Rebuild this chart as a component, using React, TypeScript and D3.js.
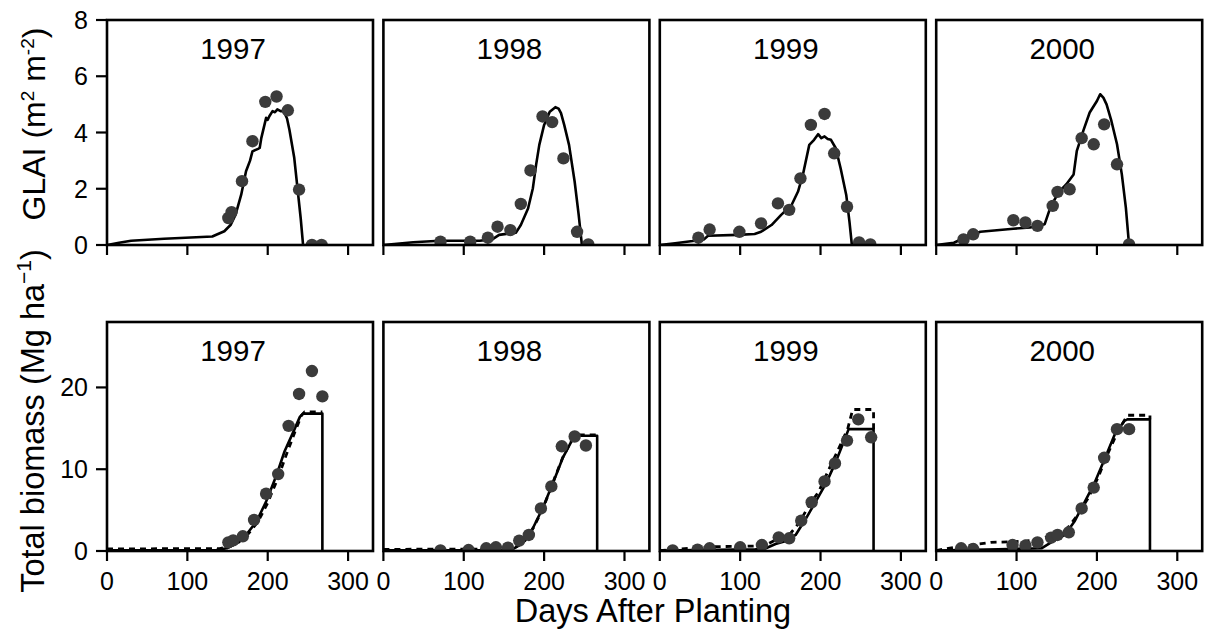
import React from 'react';
import * as d3 from 'd3';

type P = [number, number];

const years = ['1997', '1998', '1999', '2000'];
const xTicks = [0, 100, 200, 300];
const glaiTicks = [0, 2, 4, 6, 8];
const biomassTicks = [0, 10, 20];

// ---- GLAI observed ----
const glaiObs1997: P[] = [[151, 0.96], [155, 1.17], [168, 2.27], [181, 3.69], [197, 5.09], [211, 5.28], [225, 4.79], [239, 1.97], [255, 0], [267, 0]];
const glaiObs1998: P[] = [[71, 0.12], [108, 0.12], [130, 0.26], [142, 0.65], [158, 0.53], [171, 1.46], [183, 2.65], [198, 4.57], [210, 4.37], [224, 3.08], [241, 0.47], [255, 0.02]];
const glaiObs1999: P[] = [[48, 0.26], [62, 0.55], [99, 0.47], [126, 0.77], [147, 1.48], [161, 1.25], [175, 2.37], [188, 4.27], [205, 4.66], [217, 3.26], [233, 1.36], [248, 0.09], [262, 0.02]];
const glaiObs2000: P[] = [[34, 0.2], [46, 0.38], [96, 0.88], [111, 0.8], [126, 0.68], [145, 1.39], [151, 1.89], [166, 1.98], [181, 3.8], [196, 3.58], [209, 4.29], [225, 2.87], [240, 0.02]];

// ---- GLAI simulated ----
const glaiSim1997: P[] = [[0, 0], [15, 0.08], [30, 0.15], [71, 0.22], [131, 0.3], [146, 0.49], [154, 0.72], [160, 1.08], [167, 1.79], [173, 2.62], [178, 3.0], [181, 3.33], [188, 3.42], [190, 3.45], [192, 3.8], [198, 4.52], [200, 4.45], [202, 4.58], [206, 4.76], [209, 4.72], [212, 4.82], [216, 4.76], [220, 4.76], [224, 4.5], [227, 4.1], [233, 3.1], [237, 2.03], [241, 0.96], [244, 0]];
const glaiSim1998: P[] = [[0, 0], [37, 0.1], [70, 0.15], [120, 0.15], [136, 0.21], [144, 0.36], [165, 0.44], [171, 0.71], [180, 1.3], [186, 2.02], [190, 2.85], [194, 3.56], [200, 4.27], [207, 4.74], [214, 4.9], [218, 4.85], [221, 4.69], [225, 4.27], [231, 3.56], [238, 2.25], [243, 1.07], [247, 0]];
const glaiSim1999: P[] = [[0, 0], [19, 0.06], [41, 0.14], [55, 0.2], [60, 0.33], [97, 0.36], [118, 0.39], [126, 0.47], [139, 0.71], [151, 1.07], [164, 1.42], [172, 1.9], [178, 2.49], [186, 3.56], [192, 3.74], [197, 3.94], [201, 3.8], [205, 3.86], [209, 3.77], [213, 3.74], [219, 3.44], [225, 2.73], [232, 1.78], [236, 0.83], [239, 0]];
const glaiSim2000: P[] = [[0, 0], [22, 0.08], [34, 0.24], [55, 0.47], [96, 0.58], [117, 0.62], [135, 0.74], [142, 1.33], [152, 1.86], [162, 2.16], [171, 2.51], [175, 3.35], [183, 4.06], [191, 4.71], [200, 5.12], [204, 5.36], [208, 5.24], [212, 5.0], [218, 4.41], [225, 3.58], [231, 2.51], [236, 1.33], [240, 0]];

// ---- Biomass observed ----
const bioObs1997: P[] = [[151, 1.06], [157, 1.3], [169, 1.8], [183, 3.8], [198, 7.0], [213, 9.4], [226, 15.3], [239, 19.2], [255, 22.0], [268, 18.9]];
const bioObs1998: P[] = [[71, 0.08], [106, 0.12], [128, 0.33], [140, 0.45], [155, 0.4], [169, 1.27], [181, 1.96], [196, 5.2], [209, 7.9], [222, 12.8], [238, 14.0], [252, 12.9]];
const bioObs1999: P[] = [[16, 0.08], [47, 0.16], [62, 0.33], [100, 0.45], [127, 0.73], [148, 1.67], [161, 1.55], [176, 3.7], [189, 5.96], [205, 8.5], [218, 10.7], [233, 13.5], [247, 16.1], [263, 13.9]];
const bioObs2000: P[] = [[31, 0.33], [46, 0.24], [95, 0.73], [111, 0.65], [126, 1.06], [143, 1.63], [151, 1.96], [165, 2.29], [181, 5.2], [196, 7.75], [209, 11.4], [225, 14.9], [240, 14.9]];

// ---- Biomass simulated (solid) ----
const bioSimA1997: P[] = [[0, 0.1], [136, 0.12], [149, 0.33], [161, 0.94], [173, 1.96], [186, 3.6], [198, 6.04], [211, 9.3], [221, 12.2], [232, 14.6], [240, 16.4], [244, 16.8], [268, 16.8], [268, 0]];
const bioSimA1998: P[] = [[0, 0.1], [150, 0.12], [161, 0.24], [173, 0.94], [186, 2.78], [198, 5.2], [211, 8.3], [223, 11.35], [234, 13.4], [242, 14.1], [266, 14.1], [266, 0]];
const bioSimA1999: P[] = [[0, 0.05], [45, 0.12], [119, 0.2], [132, 0.33], [144, 0.86], [157, 1.22], [169, 1.96], [182, 4.0], [194, 6.04], [207, 8.3], [219, 10.9], [229, 13.4], [235, 14.9], [266, 14.9], [266, 0]];
const bioSimA2000: P[] = [[0, 0.05], [77, 0.2], [131, 0.33], [143, 1.06], [160, 1.96], [172, 3.6], [185, 6.04], [197, 8.3], [210, 11.35], [222, 14.2], [234, 15.9], [238, 16.1], [266, 16.1], [266, 0]];

// ---- Biomass simulated (dashed) ----
const bioSimB1997: P[] = [[0, 0.25], [140, 0.3], [152, 0.5], [163, 1.0], [175, 2.0], [188, 3.6], [200, 5.9], [213, 9.0], [224, 12.0], [234, 14.6], [242, 16.6], [246, 17.0], [268, 17.0]];
const bioSimB1998: P[] = [[0, 0.2], [155, 0.25], [165, 0.5], [175, 1.1], [187, 2.9], [199, 5.3], [211, 8.4], [223, 11.4], [234, 13.5], [242, 14.2], [266, 14.2]];
const bioSimB1999: P[] = [[0, 0.05], [37, 0.33], [70, 0.53], [119, 0.61], [132, 0.73], [144, 1.35], [161, 1.96], [173, 3.4], [186, 5.6], [198, 7.3], [211, 10.1], [223, 12.6], [234, 15.0], [240, 17.3], [266, 17.3], [266, 14.9]];
const bioSimB2000: P[] = [[0, 0.05], [15, 0.33], [44, 0.73], [68, 1.06], [98, 1.14], [127, 1.35], [139, 1.76], [160, 2.37], [176, 4.4], [189, 6.45], [201, 8.9], [214, 12.0], [226, 14.6], [238, 16.6], [266, 16.6], [266, 16.1]];

const glaiObs = [glaiObs1997, glaiObs1998, glaiObs1999, glaiObs2000];
const glaiSim = [glaiSim1997, glaiSim1998, glaiSim1999, glaiSim2000];
const bioObs = [bioObs1997, bioObs1998, bioObs1999, bioObs2000];
const bioSimA = [bioSimA1997, bioSimA1998, bioSimA1999, bioSimA2000];
const bioSimB = [bioSimB1997, bioSimB1998, bioSimB1999, bioSimB2000];

const W = 1211;
const H = 634;
const FONT = '"Liberation Sans", Arial, Helvetica, sans-serif';
const PANEL_W = 266;
const leftOf = (i: number) => 107 + i * 276.4;
const TOP = { y0: 20, y1: 245 };
const BOT = { y0: 322, y1: 551 };
const TICK = 10;
const DOT = '#3b3b3b';

function Panel({ i, row }: { i: number; row: 'top' | 'bot' }) {
  const left = leftOf(i);
  const box = row === 'top' ? TOP : BOT;
  const x = d3.scaleLinear().domain([0, 331]).range([left, left + PANEL_W]);
  const y = d3.scaleLinear().domain(row === 'top' ? [0, 8] : [0, 28]).range([box.y1, box.y0]);
  const line = d3.line<P>().x(d => x(d[0])).y(d => y(d[1]));
  const obs = row === 'top' ? glaiObs[i] : bioObs[i];
  const clipId = `clip-${row}-${i}`;
  const yTicks = row === 'top' ? glaiTicks : biomassTicks;
  return (
    <g>
      <defs>
        <clipPath id={clipId}>
          <rect x={left} y={box.y0} width={PANEL_W} height={box.y1 - box.y0} />
        </clipPath>
      </defs>
      <g clipPath={`url(#${clipId})`}>
        {row === 'bot' && (
          <path d={line(bioSimB[i]) || ''} fill="none" stroke="#000" strokeWidth={2.8} strokeDasharray="6 5" />
        )}
        <path d={line(row === 'top' ? glaiSim[i] : bioSimA[i]) || ''} fill="none" stroke="#000" strokeWidth={2.6} strokeLinejoin="round" />
        {obs.map((d, k) => (
          <circle key={k} cx={x(d[0])} cy={y(d[1])} r={6.2} fill={DOT} />
        ))}
      </g>
      <rect x={left} y={box.y0} width={PANEL_W} height={box.y1 - box.y0} fill="none" stroke="#000" strokeWidth={2.6} />
      {xTicks.map(t => (
        <line key={t} x1={x(t)} x2={x(t)} y1={box.y1} y2={box.y1 + TICK} stroke="#000" strokeWidth={2.2} />
      ))}
      {row === 'bot' && xTicks.map(t => (
        <text key={'l' + t} x={x(t)} y={590} textAnchor="middle" fontSize={25} fontFamily={FONT}>{t}</text>
      ))}
      {i === 0 && yTicks.map(t => (
        <g key={'y' + t}>
          <line x1={left - 11} x2={left} y1={y(t)} y2={y(t)} stroke="#000" strokeWidth={2.2} />
          <text x={88} y={y(t)} dy="0.36em" textAnchor="end" fontSize={25} fontFamily={FONT}>{t}</text>
        </g>
      ))}
      <text x={left + PANEL_W / 2 - 7} y={box.y0 + 39} textAnchor="middle" fontSize={29.5} fontFamily={FONT}>{years[i]}</text>
    </g>
  );
}

export default function App() {
  return (
    <svg width={W} height={H} viewBox={`0 0 ${W} ${H}`} style={{ position: 'absolute', left: 0, top: 0, background: '#fff' }}>
      <rect x={0} y={0} width={W} height={H} fill="#fff" />
      {years.map((_, i) => <Panel key={'t' + i} i={i} row="top" />)}
      {years.map((_, i) => <Panel key={'b' + i} i={i} row="bot" />)}
      <text x={653} y={622} textAnchor="middle" fontSize={32.5} fontFamily={FONT}>Days After Planting</text>
      <text transform="translate(45,124) rotate(-90)" textAnchor="middle" fontSize={32} fontFamily={FONT}>
        GLAI (m<tspan dy={-11} fontSize={19}>2</tspan><tspan dy={11}> m</tspan><tspan dy={-11} fontSize={19}>-2</tspan><tspan dy={11}>)</tspan>
      </text>
      <text transform="translate(44,421) rotate(-90)" textAnchor="middle" fontSize={32.5} fontFamily={FONT}>
        Total biomass (Mg ha<tspan dy={-13} fontSize={21}>−1</tspan><tspan dy={13}>)</tspan>
      </text>
    </svg>
  );
}
